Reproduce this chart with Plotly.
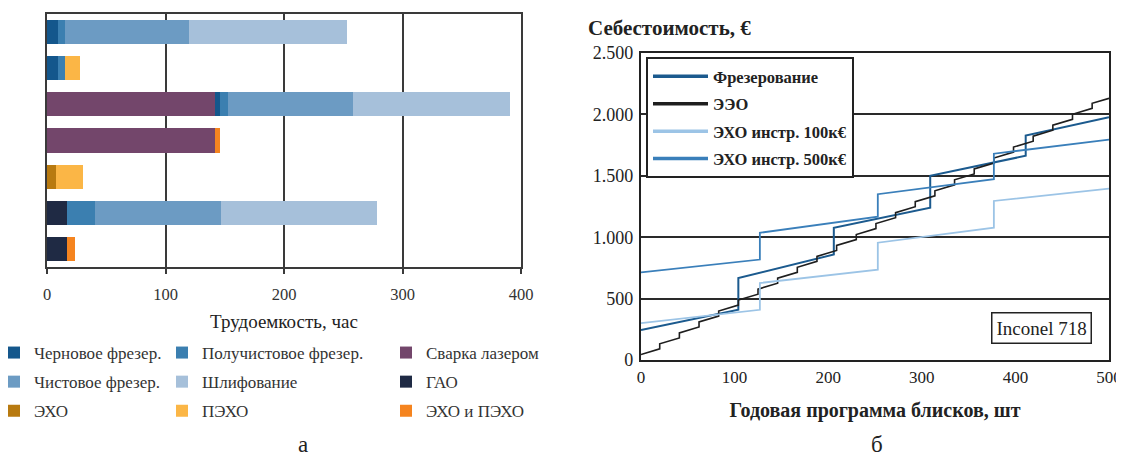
import plotly.graph_objects as go

# The page body adds an 8 px offset, so the figure is 8 px smaller than the window.
W, H = 1116, 449


def PX(x):
    return (x - 8) / W


def PY(y):
    return 1 - (y - 8) / H


# ---------------- Left chart (а): Трудоемкость, час ----------------
bar_rows = ["1", "2", "3", "4", "5", "6", "7"]
welding = [0, 0, 141.7, 141.7, 0, 0, 0]          # Сварка лазером
gao = [0, 0, 0, 0, 0, 16.5, 16.5]                 # ГАО
eho = [0, 0, 0, 0, 7.5, 0, 0]                     # ЭХО
rough_mill = [9.0, 9.0, 3.9, 0, 0, 0, 0]          # Черновое фрезер.
semi_mill = [6.0, 6.0, 6.9, 0, 0, 24.0, 0]        # Получистовое фрезер.
finish_mill = [105.0, 0, 105.7, 0, 0, 106.6, 0]   # Чистовое фрезер.
grinding = [133.0, 0, 132.1, 0, 0, 131.5, 0]      # Шлифование
peho = [0, 12.6, 0, 0, 23.1, 0, 0]                # ПЭХО
eho_peho = [0, 0, 0, 4.2, 0, 0, 6.9]              # ЭХО и ПЭХО
hours_ticks = [0, 100, 200, 300, 400]

# ---------------- Right chart (б): Себестоимость, € ----------------
mill_x = [0, 104, 104, 206, 206, 309, 309, 411, 411, 500]
mill_y = [245, 409, 668, 859, 1077, 1241, 1500, 1663, 1827, 1977]

eeo_x = [0, 20, 20, 41, 41, 62, 62, 83, 83, 104, 104, 125, 125, 146, 146,
         167, 167, 188, 188, 209, 209, 230, 230, 251, 251, 272, 272, 293, 293,
         314, 314, 335, 335, 356, 356, 377, 377, 398, 398, 419, 419, 440, 440,
         461, 461, 482, 482, 500]
eeo_y = [45, 91, 132, 180, 221, 269, 310, 358, 399, 447, 488, 536, 577, 625, 666,
         714, 755, 803, 844, 892, 933, 981, 1022, 1070, 1111, 1159, 1200, 1248, 1289,
         1337, 1378, 1426, 1467, 1515, 1556, 1604, 1645, 1693, 1734, 1782, 1823, 1871, 1912,
         1960, 2001, 2049, 2090, 2131]

eho100_x = [0, 127, 127, 253, 253, 377, 377, 500]
eho100_y = [300, 409, 627, 736, 955, 1077, 1295, 1396]

eho500_x = [0, 127, 127, 253, 253, 377, 377, 500]
eho500_y = [714, 818, 1036, 1167, 1350, 1472, 1680, 1794]

cost_ticks = [0, 500, 1000, 1500, 2000, 2500]
prog_ticks = [0, 100, 200, 300, 400, 500]

SERIF = "Liberation Serif"


def F(size, color="#333333", weight="normal"):
    return dict(family=SERIF, size=size, color=color, weight=weight)


fig = go.Figure()

bar_series = [
    ("Сварка лазером", welding, "#73466b", "legend3", 1),
    ("ГАО", gao, "#1f2a44", "legend3", 2),
    ("ЭХО", eho, "#b87a10", "legend", 3),
    ("Черновое фрезер.", rough_mill, "#14578c", "legend", 1),
    ("Получистовое фрезер.", semi_mill, "#3b7fb0", "legend2", 1),
    ("Чистовое фрезер.", finish_mill, "#6c9bc3", "legend", 2),
    ("Шлифование", grinding, "#a6c0da", "legend2", 2),
    ("ПЭХО", peho, "#fbb646", "legend2", 3),
    ("ЭХО и ПЭХО", eho_peho, "#f5841f", "legend3", 3),
]
for name, vals, color, leg, rank in bar_series:
    fig.add_trace(go.Bar(
        y=bar_rows, x=vals, name=name, orientation="h",
        marker=dict(color=color, line=dict(width=0)),
        legend=leg, legendrank=rank, legendgroup=name,
        xaxis="x", yaxis="y",
    ))

line_series = [
    ("Фрезерование", mill_x, mill_y, "#1b5a8e", 2.0),
    ("ЭЭО", eeo_x, eeo_y, "#1e1e1e", 1.6),
    ("ЭХО инстр. 100к€", eho100_x, eho100_y, "#9cc4e6", 1.8),
    ("ЭХО инстр. 500к€", eho500_x, eho500_y, "#3a7fba", 1.8),
]
for i, (name, xs, ys, color, lw) in enumerate(line_series):
    fig.add_trace(go.Scatter(
        x=xs, y=ys, mode="lines", name=name, line=dict(color=color, width=lw),
        xaxis="x2", yaxis="y2", showlegend=False, legendgroup="r" + name,
    ))
    fig.add_trace(go.Scatter(
        x=[None], y=[None], mode="lines", name=name,
        line=dict(color=color, width=3.5),
        xaxis="x2", yaxis="y2", legend="legend4", legendgroup="r" + name,
        legendrank=i + 1,
    ))

GRID = "#3a3a3a"
left_leg = dict(yanchor="top", y=PY(335), xanchor="left", orientation="v",
                bgcolor="rgba(0,0,0,0)", font=F(17), traceorder="grouped",
                tracegroupgap=4, itemwidth=30)

fig.update_layout(
    width=W, height=H,
    margin=dict(l=0, r=0, t=0, b=0, autoexpand=False),
    paper_bgcolor="white", plot_bgcolor="white",
    barmode="stack", bargap=0.33,
    separators=",.",
    font=F(16),
    xaxis=dict(
        domain=[PX(47), PX(521)], anchor="y", range=[0, 400], tickvals=hours_ticks,
        showgrid=True, gridcolor=GRID, gridwidth=1.6, zeroline=False,
        showline=True, linecolor=GRID, linewidth=2, mirror=True,
        ticks="outside", ticklen=5, tickwidth=1.5, tickcolor=GRID,
        ticklabelstandoff=6, automargin=False,
        tickfont=F(16.5),
        title=dict(text="Трудоемкость, час", font=F(19, "#222222"), standoff=12),
    ),
    yaxis=dict(
        domain=[PY(267), PY(14)], anchor="x", automargin=False,
        autorange="reversed", showticklabels=False, showgrid=False, zeroline=False,
        showline=True, linecolor=GRID, linewidth=2, mirror=True, ticks="",
    ),
    xaxis2=dict(
        domain=[PX(641), PX(1109)], anchor="y2", range=[0, 500], tickvals=prog_ticks,
        showgrid=False, zeroline=False, automargin=False,
        showline=True, linecolor="#222222", linewidth=2.2, mirror=True, ticks="",
        ticklabelstandoff=0,
        tickfont=F(17, "#222222"),
        title=dict(text="Годовая программа блисков, шт",
                   font=F(20, "#222222", "bold"), standoff=17),
    ),
    yaxis2=dict(
        domain=[PY(360), PY(53)], anchor="x2", range=[0, 2500],
        tickvals=cost_ticks, tickformat=",d", automargin=False,
        showgrid=True, gridcolor="#2a2a2a", gridwidth=2, zeroline=False,
        showline=True, linecolor="#222222", linewidth=2.2, mirror=True, ticks="",
        ticklabelstandoff=2,
        tickfont=F(18, "#222222"),
    ),
    legend=dict(left_leg, x=PX(-6)),
    legend2=dict(left_leg, x=PX(162)),
    legend3=dict(left_leg, x=PX(386)),
    legend4=dict(x=PX(646), y=PY(57), xanchor="left", yanchor="top",
                 orientation="v", bgcolor="white", bordercolor="#222222", borderwidth=2,
                 font=F(16.5, "#222222", "bold"),
                 traceorder="grouped", tracegroupgap=3, itemwidth=55),
    annotations=[
        dict(text="Себестоимость, €", x=PX(586), y=PY(28), xref="paper", yref="paper",
             xanchor="left", yanchor="middle", showarrow=False,
             font=F(21, "#222222", "bold")),
        dict(text="Inconel 718", x=PX(1041), y=PY(328), xref="paper", yref="paper",
             xanchor="center", yanchor="middle", showarrow=False,
             bordercolor="#222222", borderwidth=1.5, borderpad=4, bgcolor="white",
             font=F(19, "#222222")),
        dict(text="а", x=PX(303), y=PY(444), xref="paper", yref="paper",
             xanchor="center", yanchor="middle", showarrow=False,
             font=F(23, "#222222")),
        dict(text="б", x=PX(877), y=PY(444), xref="paper", yref="paper",
             xanchor="center", yanchor="middle", showarrow=False,
             font=F(23, "#222222")),
    ],
)

fig.write_html("out.html")
